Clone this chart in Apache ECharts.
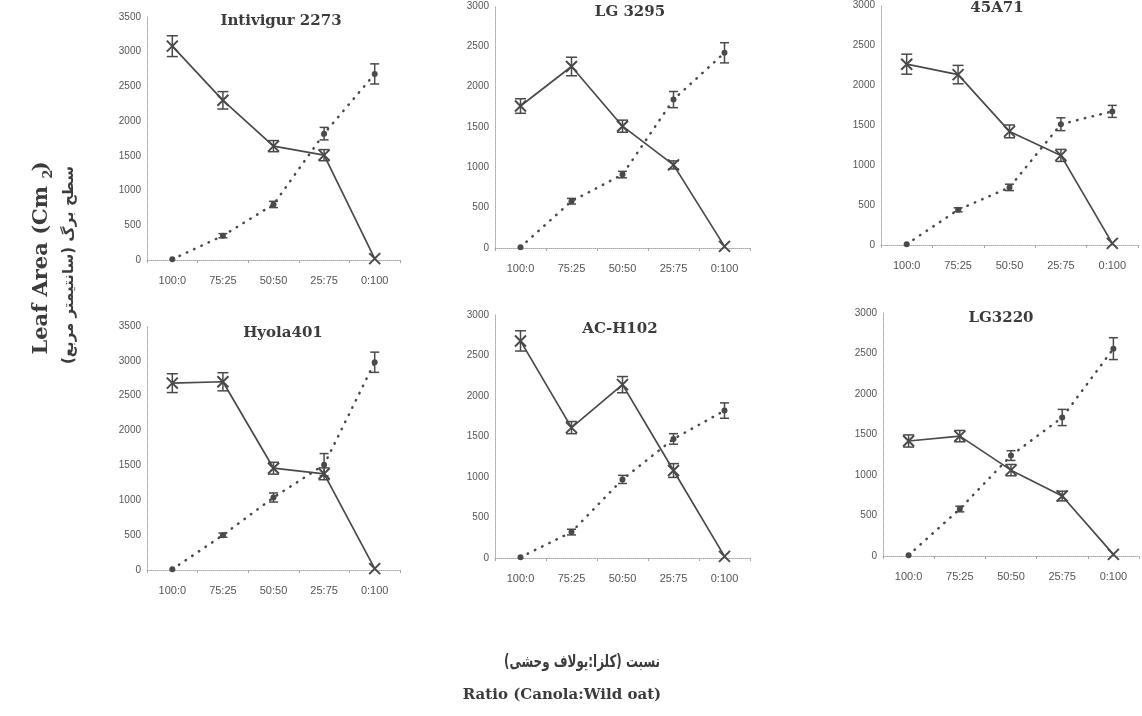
<!DOCTYPE html>
<html>
<head>
<meta charset="utf-8">
<script src="https://cdn.jsdelivr.net/npm/echarts@6/dist/echarts.min.js"></script>
<style>
html,body{margin:0;padding:0;background:#fff;}
#c{width:1142px;height:716px;}
</style>
</head>
<body>
<div id="c"></div>
<script>
// ---------- DATA ----------
const categories = ['100:0', '75:25', '50:50', '25:75', '0:100'];
const panelTitles = ['Intivigur 2273', 'LG 3295', '45A71', 'Hyola401', 'AC-H102', 'LG3220'];
const yMaxes = [3500, 3000, 3000, 3500, 3000, 3000];

const canolaIntivigur = [3080, 2300, 1640, 1510, 20];
const canolaLG3295    = [1760, 2250, 1510, 1030, 20];
const canola45A71     = [2260, 2130, 1420, 1120, 20];
const canolaHyola401  = [2680, 2700, 1460, 1380, 20];
const canolaACH102    = [2680, 1610, 2140, 1080, 20];
const canolaLG3220    = [1420, 1480, 1060, 740, 20];

const oatIntivigur = [10, 350, 800, 1820, 2680];
const oatLG3295    = [10, 580, 910, 1840, 2420];
const oat45A71     = [10, 440, 720, 1510, 1670];
const oatHyola401  = [10, 500, 1040, 1510, 2980];
const oatACH102    = [10, 320, 970, 1470, 1820];
const oatLG3220    = [10, 580, 1240, 1710, 2560];

const canolaErrIntivigur = [150, 125, 80, 80, 0];
const canolaErrLG3295    = [90, 115, 75, 50, 0];
const canolaErr45A71     = [125, 115, 80, 75, 0];
const canolaErrHyola401  = [135, 130, 85, 85, 0];
const canolaErrACH102    = [125, 75, 100, 85, 0];
const canolaErrLG3220    = [75, 70, 70, 60, 0];

const oatErrIntivigur = [0, 30, 45, 90, 145];
const oatErrLG3295    = [0, 35, 40, 100, 125];
const oatErr45A71     = [0, 25, 40, 80, 75];
const oatErrHyola401  = [0, 30, 65, 160, 145];
const oatErrACH102    = [0, 35, 50, 65, 95];
const oatErrLG3220    = [0, 35, 60, 100, 135];

const yTitleEn = 'Leaf Area (Cm  )';
const yTitleSup = '2';
const yTitleFa = '\u200Fسطح برگ (سانتیمتر مربع)\u200F';
const xTitleFa = '\u200Fنسبت (کلزا:یولاف وحشی)\u200F';
const xTitleEn = 'Ratio (Canola:Wild oat)';

// ---------- LAYOUT ----------
const canolaSets = [canolaIntivigur, canolaLG3295, canola45A71, canolaHyola401, canolaACH102, canolaLG3220];
const oatSets = [oatIntivigur, oatLG3295, oat45A71, oatHyola401, oatACH102, oatLG3220];
const canolaErrSets = [canolaErrIntivigur, canolaErrLG3295, canolaErr45A71, canolaErrHyola401, canolaErrACH102, canolaErrLG3220];
const oatErrSets = [oatErrIntivigur, oatErrLG3295, oatErr45A71, oatErrHyola401, oatErrACH102, oatErrLG3220];

const grids = [
  {left: 147, top: 17,  width: 253, height: 243},
  {left: 495, top: 6,   width: 255, height: 242},
  {left: 881, top: 1,   width: 257, height: 244},
  {left: 147, top: 326, width: 253, height: 244},
  {left: 495, top: 315, width: 255, height: 243},
  {left: 883, top: 313, width: 256, height: 243}
];
const titlePos = [[281, 21], [630, 12], [997, 8], [283, 333], [620, 329], [1001, 318]];

const INK = '#4a4a4a';
const AX = '#a8a8a8';
const LBL = '#555';
const sans = '"Liberation Sans", Arial, sans-serif';
const serif = '"DejaVu Serif", "Liberation Serif", serif';

function errRender(capW) {
  return function (params, api) {
    const x = api.value(0), v = api.value(1), e = api.value(2);
    if (!e) return null;
    const t = api.coord([x, v + e]), b = api.coord([x, v - e]);
    const st = {stroke: INK, lineWidth: 1.5, fill: null};
    return {type: 'group', children: [
      {type: 'line', shape: {x1: t[0], y1: t[1], x2: b[0], y2: b[1]}, style: st},
      {type: 'line', shape: {x1: t[0] - capW / 2, y1: t[1], x2: t[0] + capW / 2, y2: t[1]}, style: st},
      {type: 'line', shape: {x1: b[0] - capW / 2, y1: b[1], x2: b[0] + capW / 2, y2: b[1]}, style: st}
    ]};
  };
}

const xAxes = [], yAxes = [], series = [], graphics = [];
grids.forEach((g, i) => {
  xAxes.push({
    type: 'category', gridIndex: i, data: categories, boundaryGap: true,
    axisLine: {lineStyle: {color: AX, type: 'dotted', width: 1}},
    axisTick: {show: true, interval: 0, length: 3, lineStyle: {color: AX}},
    axisLabel: {color: LBL, fontSize: 11, fontFamily: sans, margin: 15, interval: 0}
  });
  yAxes.push({
    type: 'value', gridIndex: i, min: 0, max: yMaxes[i], interval: 500,
    splitLine: {show: false},
    axisLine: {show: true, lineStyle: {color: AX, type: 'dotted', width: 1}},
    axisTick: {show: false},
    axisLabel: {color: LBL, fontSize: 10, fontFamily: sans, margin: 6, formatter: v => String(v)}
  });
  series.push({
    type: 'line', xAxisIndex: i, yAxisIndex: i, data: canolaSets[i],
    symbol: 'path://M0,0L10,10M10,0L0,10', symbolSize: 11, z: 3,
    lineStyle: {color: INK, width: 1.7},
    itemStyle: {color: 'rgba(0,0,0,0)', borderColor: INK, borderWidth: 2},
    animation: false
  });
  series.push({
    type: 'line', xAxisIndex: i, yAxisIndex: i, data: oatSets[i],
    symbol: 'circle', symbolSize: 6, z: 3,
    lineStyle: {color: INK, width: 2.5, type: [0.5, 7.5], cap: 'round'},
    itemStyle: {color: INK},
    animation: false
  });
  series.push({
    type: 'custom', xAxisIndex: i, yAxisIndex: i, z: 4,
    renderItem: errRender(11), encode: {x: 0, y: 1},
    data: canolaSets[i].map((v, k) => [k, v, canolaErrSets[i][k]]),
    animation: false
  });
  series.push({
    type: 'custom', xAxisIndex: i, yAxisIndex: i, z: 4,
    renderItem: errRender(9), encode: {x: 0, y: 1},
    data: oatSets[i].map((v, k) => [k, v, oatErrSets[i][k]]),
    animation: false
  });
  graphics.push({
    type: 'text', x: titlePos[i][0], y: titlePos[i][1], z: 10,
    style: {text: panelTitles[i], fill: '#3c3c3c', font: 'bold 15px ' + serif,
      align: 'center', verticalAlign: 'middle'}
  });
});

graphics.push({
  type: 'text', x: 42, y: 258, rotation: Math.PI / 2,
  style: {text: yTitleEn, fill: '#3c3c3c', font: 'bold 21px ' + serif, align: 'center', verticalAlign: 'middle'}
});
graphics.push({
  type: 'text', x: 49, y: 174, rotation: Math.PI / 2,
  style: {text: yTitleSup, fill: '#3c3c3c', font: 'bold 13px ' + serif, align: 'center', verticalAlign: 'middle'}
});
graphics.push({
  type: 'text', x: 69, y: 265, rotation: Math.PI / 2,
  style: {text: yTitleFa, fill: '#3c3c3c', font: 'bold 15px "DejaVu Sans", sans-serif', align: 'center', verticalAlign: 'middle'}
});
graphics.push({
  type: 'text', x: 582, y: 663, scaleX: 0.7,
  style: {text: xTitleFa, fill: '#3c3c3c', font: 'bold 17px "DejaVu Sans", sans-serif', align: 'center', verticalAlign: 'middle'}
});
graphics.push({
  type: 'text', x: 562, y: 695,
  style: {text: xTitleEn, fill: '#3c3c3c', font: 'bold 15px ' + serif, align: 'center', verticalAlign: 'middle'}
});

const chart = echarts.init(document.getElementById('c'), null, {renderer: 'canvas'});
chart.setOption({
  animation: false,
  backgroundColor: '#fff',
  grid: grids,
  xAxis: xAxes,
  yAxis: yAxes,
  series: series,
  graphic: graphics
});
</script>
</body>
</html>
